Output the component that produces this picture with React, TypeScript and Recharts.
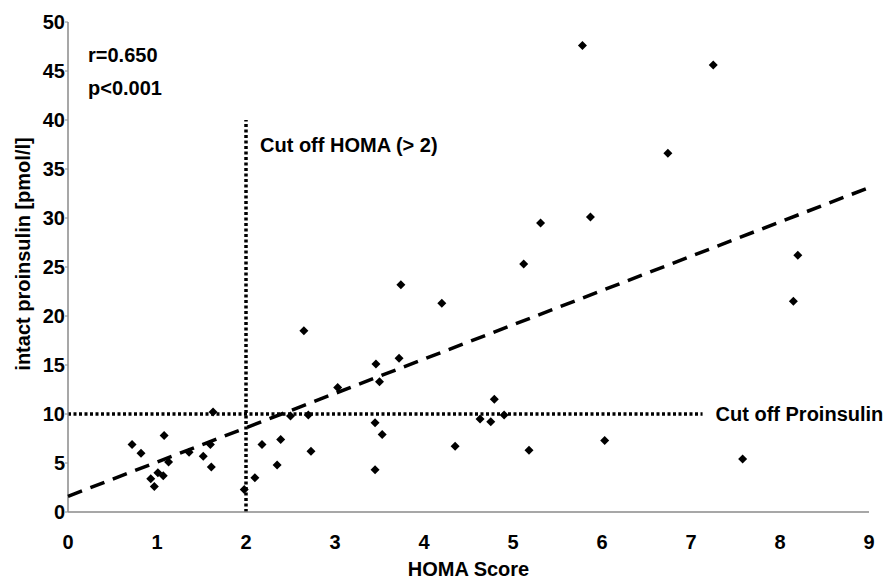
import {
  Label,
  ReferenceDot,
  ReferenceLine,
  Scatter,
  ScatterChart,
  XAxis,
  YAxis,
} from "recharts";

// HOMA score vs intact proinsulin
const HOMA = [
  0.72, 0.82, 0.93, 0.97, 1.01, 1.07, 1.08, 1.13, 1.36, 1.52, 1.6, 1.61, 1.63,
  1.98, 2.1, 2.18, 2.35, 2.39, 2.5, 2.65, 2.7, 2.73, 3.03, 3.45, 3.45, 3.46,
  3.5, 3.53, 3.72, 3.74, 4.2, 4.35, 4.63, 4.75, 4.79, 4.9, 5.12, 5.18, 5.31,
  5.78, 5.87, 6.03, 6.74, 7.25, 7.58, 8.15, 8.2,
];
const PROINSULIN = [
  6.9, 6.0, 3.4, 2.6, 4.0, 3.7, 7.8, 5.1, 6.1, 5.7, 6.9, 4.6, 10.2, 2.3, 3.5,
  6.9, 4.8, 7.4, 9.8, 18.5, 9.9, 6.2, 12.7, 9.1, 4.3, 15.1, 13.3, 7.9, 15.7,
  23.2, 21.3, 6.7, 9.5, 9.2, 11.5, 9.9, 25.3, 6.3, 29.5, 47.6, 30.1, 7.3, 36.6,
  45.6, 5.4, 21.5, 26.2,
];

// regression line end points
const FIT_X = [0, 9];
const FIT_Y = [1.6, 33.1];

const X_TICKS = [0, 1, 2, 3, 4, 5, 6, 7, 8, 9];
const Y_TICKS = [0, 5, 10, 15, 20, 25, 30, 35, 40, 45, 50];

const HOMA_CUT = 2;
const HOMA_CUT_TOP = 40;
const PROINSULIN_CUT = 10;
const PROINSULIN_CUT_END = 7.13;

const points = HOMA.map((x, i) => ({ x, y: PROINSULIN[i] }));
const fit = FIT_X.map((x, i) => ({ x, y: FIT_Y[i] }));

const FONT = "'Liberation Sans', Arial, sans-serif";
const AXIS = "#8a8a8a";
const TEXT_STYLE = { fontFamily: FONT, fontSize: 20, fontWeight: 700, fill: "#000" };

function Diamond(props: any) {
  const { cx, cy } = props;
  const r = 4.5;
  return (
    <path
      d={`M${cx},${cy - r}L${cx + r},${cy}L${cx},${cy + r}L${cx - r},${cy}Z`}
      fill="#000"
    />
  );
}

function YTitle() {
  return (
    <text
      transform="translate(23,254) rotate(-90)"
      textAnchor="middle"
      dominantBaseline="central"
      style={TEXT_STYLE}
    >
      intact proinsulin [pmol/l]
    </text>
  );
}

export default function App() {
  return (
    <div style={{ position: "absolute", left: 0, top: 0, background: "#fff" }}>
      <ScatterChart
        width={889}
        height={580}
        margin={{ top: 22, right: 20, bottom: 0, left: 0 }}
      >
        <XAxis
          type="number"
          dataKey="x"
          domain={[0, 9]}
          ticks={X_TICKS}
          height={68}
          axisLine={{ stroke: AXIS, strokeWidth: 1.5 }}
          tickLine={false}
          tickMargin={17}
          tick={TEXT_STYLE}
        >
          <Label
            value="HOMA Score"
            position="insideBottom"
            offset={4}
            style={TEXT_STYLE}
          />
        </XAxis>
        <YAxis
          type="number"
          dataKey="y"
          domain={[0, 50]}
          ticks={Y_TICKS}
          width={68}
          axisLine={{ stroke: AXIS, strokeWidth: 1.5 }}
          tickLine={{ stroke: AXIS }}
          tickSize={3}
          tickMargin={0}
          tick={TEXT_STYLE}
          label={{ content: () => <YTitle /> }}
        />
        <ReferenceLine
          segment={[
            { x: HOMA_CUT, y: 0 },
            { x: HOMA_CUT, y: HOMA_CUT_TOP },
          ]}
          stroke="#000"
          strokeWidth={3.5}
          strokeDasharray="3 2.5"
        />
        <ReferenceLine
          segment={[
            { x: 0, y: PROINSULIN_CUT },
            { x: PROINSULIN_CUT_END, y: PROINSULIN_CUT },
          ]}
          stroke="#000"
          strokeWidth={3.5}
          strokeDasharray="3 2.5"
        >
          <Label
            value="Cut off Proinsulin"
            position="right"
            offset={13}
            style={TEXT_STYLE}
          />
        </ReferenceLine>
        <ReferenceDot x={HOMA_CUT} y={37.45} r={0} stroke="none" fill="none">
          <Label value="Cut off HOMA (> 2)" position="right" offset={14} style={TEXT_STYLE} />
        </ReferenceDot>
        <ReferenceDot x={0.225} y={46.6} r={0} stroke="none" fill="none">
          <Label value="r=0.650" position="right" offset={0} style={TEXT_STYLE} />
        </ReferenceDot>
        <ReferenceDot x={0.225} y={43.3} r={0} stroke="none" fill="none">
          <Label value="p<0.001" position="right" offset={0} style={TEXT_STYLE} />
        </ReferenceDot>
        <Scatter
          data={fit}
          shape={() => <g />}
          line={{ stroke: "#000", strokeWidth: 3.5, strokeDasharray: "15 9" }}
          isAnimationActive={false}
        />
        <Scatter data={points} shape={Diamond} isAnimationActive={false} />
      </ScatterChart>
    </div>
  );
}
